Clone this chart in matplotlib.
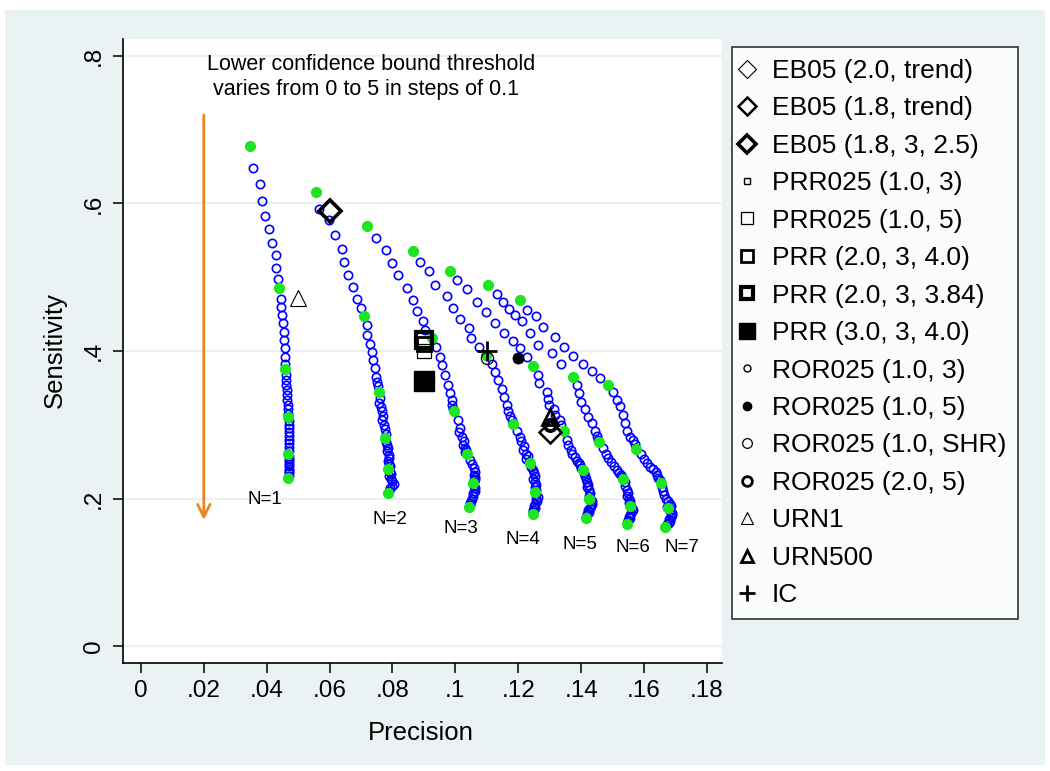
import matplotlib
matplotlib.use("Agg")
import matplotlib.pyplot as plt
from matplotlib.lines import Line2D
from matplotlib.patches import Rectangle
import numpy as np

plt.rcParams['font.family'] = ['Liberation Sans', 'DejaVu Sans']

# precision / sensitivity along each curve, threshold 0..5 step 0.1 (51 points each)
n1_x = [0.0347, 0.0355, 0.0378, 0.0386, 0.0394, 0.0407, 0.0416, 0.0428, 0.0428, 0.0437,
        0.0439, 0.0444, 0.0447, 0.0449, 0.0453, 0.0456, 0.0456, 0.0458, 0.0458, 0.0457,
        0.0458, 0.0460, 0.0461, 0.0462, 0.0463, 0.0465, 0.0466, 0.0467, 0.0468, 0.0469,
        0.0469, 0.0470, 0.0471, 0.0470, 0.0471, 0.0472, 0.0471, 0.0470, 0.0471, 0.0470,
        0.0469, 0.0470, 0.0471, 0.0470, 0.0471, 0.0472, 0.0471, 0.0470, 0.0471, 0.0470,
        0.0469]
n1_y = [0.678, 0.648, 0.626, 0.604, 0.583, 0.565, 0.546, 0.530, 0.513, 0.498,
        0.486, 0.471, 0.460, 0.449, 0.438, 0.426, 0.415, 0.404, 0.392, 0.383,
        0.375, 0.368, 0.361, 0.354, 0.347, 0.340, 0.333, 0.327, 0.321, 0.315,
        0.310, 0.305, 0.300, 0.295, 0.290, 0.285, 0.280, 0.275, 0.270, 0.265,
        0.261, 0.257, 0.254, 0.251, 0.247, 0.244, 0.240, 0.237, 0.234, 0.231,
        0.228]

n2_x = [0.0556, 0.0566, 0.0598, 0.0617, 0.0638, 0.0647, 0.0657, 0.0675, 0.0688, 0.0699,
        0.0709, 0.0718, 0.0720, 0.0728, 0.0734, 0.0739, 0.0744, 0.0747, 0.0752, 0.0755,
        0.0757, 0.0760, 0.0757, 0.0763, 0.0766, 0.0771, 0.0768, 0.0774, 0.0777, 0.0779,
        0.0776, 0.0780, 0.0783, 0.0786, 0.0784, 0.0788, 0.0790, 0.0786, 0.0789, 0.0791,
        0.0787, 0.0791, 0.0794, 0.0790, 0.0796, 0.0800, 0.0806, 0.0797, 0.0792, 0.0789,
        0.0787]
n2_y = [0.615, 0.593, 0.577, 0.557, 0.538, 0.520, 0.503, 0.487, 0.471, 0.458,
        0.447, 0.435, 0.422, 0.410, 0.399, 0.388, 0.377, 0.365, 0.358, 0.352,
        0.344, 0.336, 0.330, 0.324, 0.318, 0.312, 0.306, 0.300, 0.294, 0.288,
        0.282, 0.277, 0.273, 0.268, 0.264, 0.259, 0.255, 0.251, 0.247, 0.244,
        0.240, 0.236, 0.233, 0.230, 0.227, 0.224, 0.220, 0.217, 0.214, 0.210,
        0.207]

n3_x = [0.0718, 0.0747, 0.0778, 0.0797, 0.0819, 0.0847, 0.0866, 0.0877, 0.0898, 0.0903,
        0.0927, 0.0940, 0.0951, 0.0959, 0.0967, 0.0977, 0.0983, 0.0988, 0.0990, 0.0994,
        0.0996, 0.1009, 0.1015, 0.1012, 0.1020, 0.1028, 0.1024, 0.1030, 0.1034, 0.1032,
        0.1036, 0.1046, 0.1053, 0.1060, 0.1063, 0.1058, 0.1062, 0.1064, 0.1060, 0.1058,
        0.1057, 0.1060, 0.1063, 0.1061, 0.1057, 0.1055, 0.1052, 0.1050, 0.1048, 0.1046,
        0.1044]
n3_y = [0.570, 0.553, 0.537, 0.519, 0.503, 0.486, 0.469, 0.454, 0.441, 0.428,
        0.418, 0.406, 0.392, 0.381, 0.367, 0.354, 0.343, 0.333, 0.327, 0.322,
        0.318, 0.306, 0.296, 0.290, 0.284, 0.278, 0.273, 0.269, 0.266, 0.263,
        0.260, 0.252, 0.247, 0.241, 0.236, 0.232, 0.229, 0.227, 0.225, 0.223,
        0.221, 0.217, 0.214, 0.210, 0.207, 0.203, 0.200, 0.197, 0.194, 0.191,
        0.189]

n4_x = [0.0866, 0.0887, 0.0917, 0.0935, 0.0972, 0.0991, 0.1015, 0.1044, 0.1051, 0.1076,
        0.1097, 0.1115, 0.1126, 0.1137, 0.1147, 0.1155, 0.1163, 0.1168, 0.1174, 0.1179,
        0.1184, 0.1195, 0.1205, 0.1210, 0.1218, 0.1215, 0.1224, 0.1230, 0.1226, 0.1233,
        0.1237, 0.1242, 0.1246, 0.1249, 0.1252, 0.1248, 0.1253, 0.1256, 0.1252, 0.1255,
        0.1253, 0.1258, 0.1262, 0.1256, 0.1259, 0.1254, 0.1250, 0.1252, 0.1248, 0.1247,
        0.1246]
n4_y = [0.535, 0.520, 0.508, 0.490, 0.474, 0.458, 0.444, 0.431, 0.417, 0.405,
        0.395, 0.383, 0.372, 0.361, 0.349, 0.338, 0.327, 0.318, 0.312, 0.307,
        0.301, 0.292, 0.284, 0.278, 0.271, 0.266, 0.261, 0.257, 0.253, 0.250,
        0.248, 0.243, 0.238, 0.234, 0.230, 0.226, 0.222, 0.218, 0.215, 0.212,
        0.209, 0.205, 0.202, 0.199, 0.196, 0.193, 0.190, 0.187, 0.184, 0.182,
        0.179]

n5_x = [0.0983, 0.1006, 0.1038, 0.1068, 0.1097, 0.1126, 0.1154, 0.1184, 0.1205, 0.1227,
        0.1246, 0.1264, 0.1267, 0.1290, 0.1296, 0.1299, 0.1315, 0.1317, 0.1333, 0.1336,
        0.1346, 0.1354, 0.1358, 0.1368, 0.1372, 0.1380, 0.1386, 0.1392, 0.1396, 0.1401,
        0.1405, 0.1409, 0.1412, 0.1415, 0.1418, 0.1422, 0.1420, 0.1425, 0.1428, 0.1424,
        0.1426, 0.1433, 0.1436, 0.1430, 0.1427, 0.1423, 0.1426, 0.1420, 0.1418, 0.1416,
        0.1414]
n5_y = [0.508, 0.496, 0.484, 0.467, 0.453, 0.438, 0.425, 0.413, 0.404, 0.392,
        0.380, 0.367, 0.356, 0.345, 0.335, 0.327, 0.322, 0.313, 0.306, 0.299,
        0.291, 0.280, 0.272, 0.266, 0.260, 0.256, 0.251, 0.248, 0.245, 0.242,
        0.239, 0.235, 0.231, 0.227, 0.223, 0.219, 0.215, 0.211, 0.207, 0.203,
        0.200, 0.196, 0.193, 0.190, 0.187, 0.184, 0.182, 0.179, 0.177, 0.175,
        0.173]

n6_x = [0.1105, 0.1131, 0.1152, 0.1172, 0.1190, 0.1211, 0.1238, 0.1264, 0.1306, 0.1335,
        0.1375, 0.1386, 0.1393, 0.1401, 0.1412, 0.1423, 0.1433, 0.1444, 0.1450, 0.1453,
        0.1457, 0.1470, 0.1478, 0.1486, 0.1495, 0.1505, 0.1513, 0.1520, 0.1526, 0.1530,
        0.1534, 0.1538, 0.1541, 0.1545, 0.1549, 0.1546, 0.1551, 0.1556, 0.1553, 0.1557,
        0.1555, 0.1561, 0.1566, 0.1560, 0.1556, 0.1553, 0.1556, 0.1550, 0.1548, 0.1546,
        0.1545]
n6_y = [0.489, 0.477, 0.466, 0.457, 0.449, 0.440, 0.424, 0.408, 0.397, 0.382,
        0.365, 0.354, 0.343, 0.331, 0.322, 0.311, 0.302, 0.291, 0.285, 0.280,
        0.276, 0.268, 0.261, 0.255, 0.249, 0.244, 0.239, 0.235, 0.232, 0.229,
        0.227, 0.222, 0.217, 0.212, 0.208, 0.204, 0.200, 0.197, 0.194, 0.192,
        0.190, 0.187, 0.184, 0.181, 0.178, 0.175, 0.173, 0.171, 0.169, 0.167,
        0.165]

n7_x = [0.1205, 0.1227, 0.1256, 0.1278, 0.1317, 0.1345, 0.1375, 0.1405, 0.1436, 0.1460,
        0.1486, 0.1502, 0.1513, 0.1523, 0.1534, 0.1539, 0.1545, 0.1555, 0.1566, 0.1571,
        0.1576, 0.1590, 0.1600, 0.1610, 0.1620, 0.1630, 0.1638, 0.1642, 0.1646, 0.1650,
        0.1653, 0.1658, 0.1661, 0.1665, 0.1670, 0.1676, 0.1682, 0.1686, 0.1680, 0.1672,
        0.1675, 0.1683, 0.1688, 0.1690, 0.1686, 0.1680, 0.1684, 0.1678, 0.1673, 0.1670,
        0.1667]
n7_y = [0.469, 0.456, 0.447, 0.432, 0.419, 0.406, 0.393, 0.383, 0.373, 0.363,
        0.354, 0.345, 0.334, 0.325, 0.313, 0.302, 0.291, 0.284, 0.280, 0.274,
        0.267, 0.260, 0.254, 0.248, 0.243, 0.240, 0.236, 0.232, 0.228, 0.225,
        0.221, 0.215, 0.210, 0.205, 0.200, 0.196, 0.193, 0.190, 0.188, 0.189,
        0.187, 0.183, 0.180, 0.177, 0.175, 0.172, 0.170, 0.167, 0.165, 0.163,
        0.161]

curves_x = [n1_x, n2_x, n3_x, n4_x, n5_x, n6_x, n7_x]
curves_y = [n1_y, n2_y, n3_y, n4_y, n5_y, n6_y, n7_y]

# labels under each curve
n_labels = ['N=1', 'N=2', 'N=3', 'N=4', 'N=5', 'N=6', 'N=7']
n_label_x = [0.0394, 0.0792, 0.1018, 0.1215, 0.1396, 0.1565, 0.1720]
n_label_y = [0.198, 0.172, 0.159, 0.145, 0.138, 0.134, 0.133]

# other methods
method_names = ['EB05 (2.0, trend)', 'EB05 (1.8, trend)', 'EB05 (1.8, 3, 2.5)',
                'PRR025 (1.0, 3)', 'PRR025 (1.0, 5)', 'PRR (2.0, 3, 4.0)',
                'PRR (2.0, 3, 3.84)', 'PRR (3.0, 3, 4.0)', 'ROR025 (1.0, 3)',
                'ROR025 (1.0, 5)', 'ROR025 (1.0, SHR)', 'ROR025 (2.0, 5)',
                'URN1', 'URN500', 'IC']
method_x = [0.13, 0.13, 0.06, 0.12, 0.09, 0.09, 0.09, 0.09, 0.13, 0.12, 0.11, 0.13, 0.05, 0.13, 0.11]
method_y = [0.29, 0.29, 0.59, 0.39, 0.40, 0.41, 0.415, 0.36, 0.30, 0.39, 0.39, 0.30, 0.472, 0.31, 0.40]

# marker style per method: marker, filled, size, edge width
method_style = [('D', False, 9, 0.8), ('D', False, 9, 1.8), ('D', False, 9, 2.6),
                ('s', False, 5, 1.0), ('s', False, 8, 0.9), ('s', False, 8, 2.0),
                ('s', False, 9, 3.0), ('s', True, 12, 1.0), ('o', False, 5, 1.0),
                ('o', True, 6, 1.0), ('o', False, 7, 0.9), ('o', False, 7, 2.0),
                ('^', False, 9, 0.8), ('^', False, 9, 2.0), ('+', False, 11, 2.0)]

W, H = 1050, 771
fig = plt.figure(figsize=(W / 100, H / 100), dpi=100)
fig.patch.set_facecolor('white')
fig.patches.append(Rectangle((5 / W, 6 / H), 1040 / W, 755 / H, transform=fig.transFigure,
                             facecolor='#eaf2f3', edgecolor='none', zorder=-10))

ax = fig.add_axes([123 / W, 1 - 663 / H, (722 - 123) / W, (663 - 39) / H])
ax.set_facecolor('white')
ax.set_xlim(-0.0057, 0.1848)
ax.set_ylim(-0.023, 0.823)

for s in ['top', 'right']:
    ax.spines[s].set_visible(False)
for s in ['left', 'bottom']:
    ax.spines[s].set_linewidth(1.2)

yt = [0, 0.2, 0.4, 0.6, 0.8]
for v in yt:
    ax.axhline(v, color='#eaf2f3', lw=1.6, zorder=0)

ax.set_xticks(np.arange(0, 0.181, 0.02))
ax.set_xticklabels(['0', '.02', '.04', '.06', '.08', '.1', '.12', '.14', '.16', '.18'])
ax.set_yticks(yt)
ax.set_yticklabels(['0', '.2', '.4', '.6', '.8'], rotation=90, va='center')
ax.tick_params(axis='both', direction='out', length=7, width=1.1, labelsize=17.5)
ax.tick_params(axis='y', pad=6)
ax.tick_params(axis='x', pad=5)

# curves: blue hollow circles, green dots at integer thresholds
for cx, cy in zip(curves_x, curves_y):
    ax.plot(cx, cy, ls='none', marker='o', ms=6, mfc='none', mec='#0000ff', mew=1.2, zorder=2)
for cx, cy in zip(curves_x, curves_y):
    ax.plot(cx[::10], cy[::10], ls='none', marker='o', ms=7, mfc='#1ee61e', mec='#1ee61e', zorder=3)

handles = []
for (m, filled, ms, mew), mx, my in zip(method_style, method_x, method_y):
    fc = 'black' if filled else 'none'
    ax.plot([mx], [my], ls='none', marker=m, ms=ms * 1.25, mfc=fc, mec='black', mew=mew, zorder=4)
    handles.append(Line2D([], [], ls='none', marker=m, ms=ms, mfc=fc, mec='black', mew=mew))

for lab, lx, ly in zip(n_labels, n_label_x, n_label_y):
    ax.text(lx, ly, lab, ha='center', va='center', fontsize=13.5)

ax.text(0.021, 0.789, 'Lower confidence bound threshold', ha='left', va='center', fontsize=15.5)
ax.text(0.021, 0.754, ' varies from 0 to 5 in steps of 0.1', ha='left', va='center', fontsize=15.5)
ax.annotate('', xy=(0.02, 0.171), xytext=(0.02, 0.72),
            arrowprops=dict(arrowstyle='->,head_length=0.9,head_width=0.45',
                            color='#e8871e', lw=2, shrinkA=0, shrinkB=0))

fig.text(421 / W, 1 - 733 / H, 'Precision', ha='center', va='center', fontsize=18.5)
fig.text(55 / W, 1 - 350 / H, 'Sensitivity', ha='center', va='center', fontsize=18.5, rotation=90)

leg = fig.legend(handles, method_names, loc='upper left', bbox_to_anchor=(732 / W, 1 - 47 / H),
                 fontsize=19, frameon=True, fancybox=False, edgecolor='black',
                 labelspacing=0.51, handlelength=0.2, handletextpad=0.85, borderpad=0.45,
                 borderaxespad=0)
leg.get_frame().set_linewidth(1.2)

fig.savefig('out.png', dpi=100)
